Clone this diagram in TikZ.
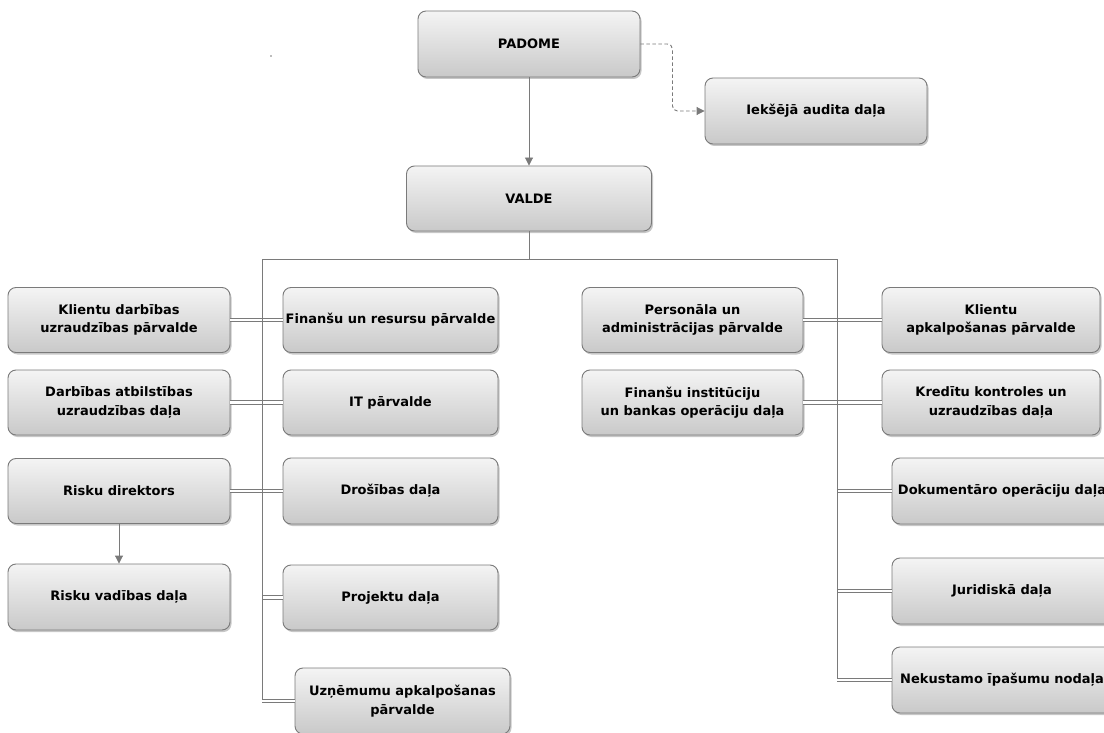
\documentclass[tikz,border=0pt]{standalone}
\usepackage{fontspec}
\setmainfont{DejaVu Sans}
\usetikzlibrary{arrows.meta,shadows}
\definecolor{linegray}{HTML}{7A7A7A}
\definecolor{boxtop}{HTML}{F4F4F4}
\definecolor{boxbot}{HTML}{C9C9C9}
\tikzset{
  box/.style={draw=linegray, line width=0.9pt, rounded corners=8pt,
    top color=boxtop, bottom color=boxbot, align=center,
    font=\fontsize{13}{18.5}\selectfont\bfseries, text=black,
    inner sep=0pt,
    drop shadow={shadow xshift=1.5pt, shadow yshift=-2pt, fill=black, opacity=0.22}},
  wbox/.style={box, minimum height=65pt},
  conn/.style={draw=linegray, line width=0.9pt},
  arr/.style={conn, -{Triangle[length=8pt,width=8pt]}},
  dbl/.style={draw=linegray, line width=0.8pt, double=white, double distance=2.6pt}
}
\begin{document}
\begin{tikzpicture}[x=1pt,y=-1pt]
\useasboundingbox[fill=white] (0,0) rectangle (1104,733);
% stray dot
\fill[linegray] (271,56) circle (0.9pt);
% top
\node[wbox, minimum width=222pt, minimum height=66pt] (pad) at (529,44) {PADOME};
\node[wbox, minimum width=222pt, minimum height=66pt] (aud) at (816,111) {Iekšējā audita daļa};
\node[wbox, minimum width=245pt] (val) at (529,198.5) {VALDE};
% left column
\node[wbox, minimum width=222pt] (kd) at (119,320) {Klientu darbības\\uzraudzības pārvalde};
\node[wbox, minimum width=222pt] (da) at (119,402.5) {Darbības atbilstības\\uzraudzības daļa};
\node[wbox, minimum width=222pt] (rd) at (119,491) {Risku direktors};
\node[wbox, minimum width=222pt, minimum height=66pt] (rv) at (119,597) {Risku vadības daļa};
% middle column
\node[wbox, minimum width=215pt] (fr) at (390.5,320) {Finanšu un resursu pārvalde};
\node[wbox, minimum width=215pt] (it) at (390.5,402.5) {IT pārvalde};
\node[wbox, minimum width=215pt, minimum height=66pt] (dr) at (390.5,491) {Drošības daļa};
\node[wbox, minimum width=215pt] (pr) at (390.5,597.5) {Projektu daļa};
\node[wbox, minimum width=215pt, minimum height=66pt] (uz) at (402.5,701) {Uzņēmumu apkalpošanas\\pārvalde};
% right-middle column
\node[wbox, minimum width=221pt] (pe) at (692.5,320) {Personāla un\\administrācijas pārvalde};
\node[wbox, minimum width=221pt] (fi) at (692.5,402.5) {Finanšu institūciju\\un bankas operāciju daļa};
% right column
\node[wbox, minimum width=218pt] (ka) at (991,320) {Klientu\\apkalpošanas pārvalde};
\node[wbox, minimum width=218pt] (kk) at (991,402.5) {Kredītu kontroles un\\uzraudzības daļa};
\node[wbox, minimum width=220pt, minimum height=66pt] (dok) at (1002,491) {Dokumentāro operāciju daļa};
\node[wbox, minimum width=220pt, minimum height=66pt] (jur) at (1002,591) {Juridiskā daļa};
\node[wbox, minimum width=220pt, minimum height=66pt] (nek) at (1002,680) {Nekustamo īpašumu nodaļa};
% connectors top
\draw[arr] (pad.south) -- (val.north);
\draw[arr, dash pattern=on 3.5pt off 2.5pt, rounded corners=5pt] (pad.east) -- ++(32,0) |- (aud.west);
% bus coordinates
\coordinate (bl) at (262,259);
\coordinate (br) at (837,259);
% double connectors
\draw[dbl] (kd.east) -- (fr.west);
\draw[dbl] (da.east) -- (it.west);
\draw[dbl] (rd.east) -- (dr.west);
\draw[dbl] (bl |- pr.west) -- (pr.west);
\draw[dbl] (bl |- uz.west) -- (uz.west);
\draw[dbl] (pe.east) -- (ka.west);
\draw[dbl] (fi.east) -- (kk.west);
\draw[dbl] (br |- dok.west) -- (dok.west);
\draw[dbl] (br |- jur.west) -- (jur.west);
\draw[dbl] (br |- nek.west) -- (nek.west);
% bus
\draw[conn] (val.south) -- (val.south |- bl);
\draw[conn] (bl) -- (br);
\draw[conn] (bl) -- ([yshift=1.7pt]bl |- uz.west);
\draw[conn] (br) -- ([yshift=1.7pt]br |- nek.west);
% risk arrow
\draw[arr] (rd.south) -- (rv.north);
\end{tikzpicture}
\end{document}
